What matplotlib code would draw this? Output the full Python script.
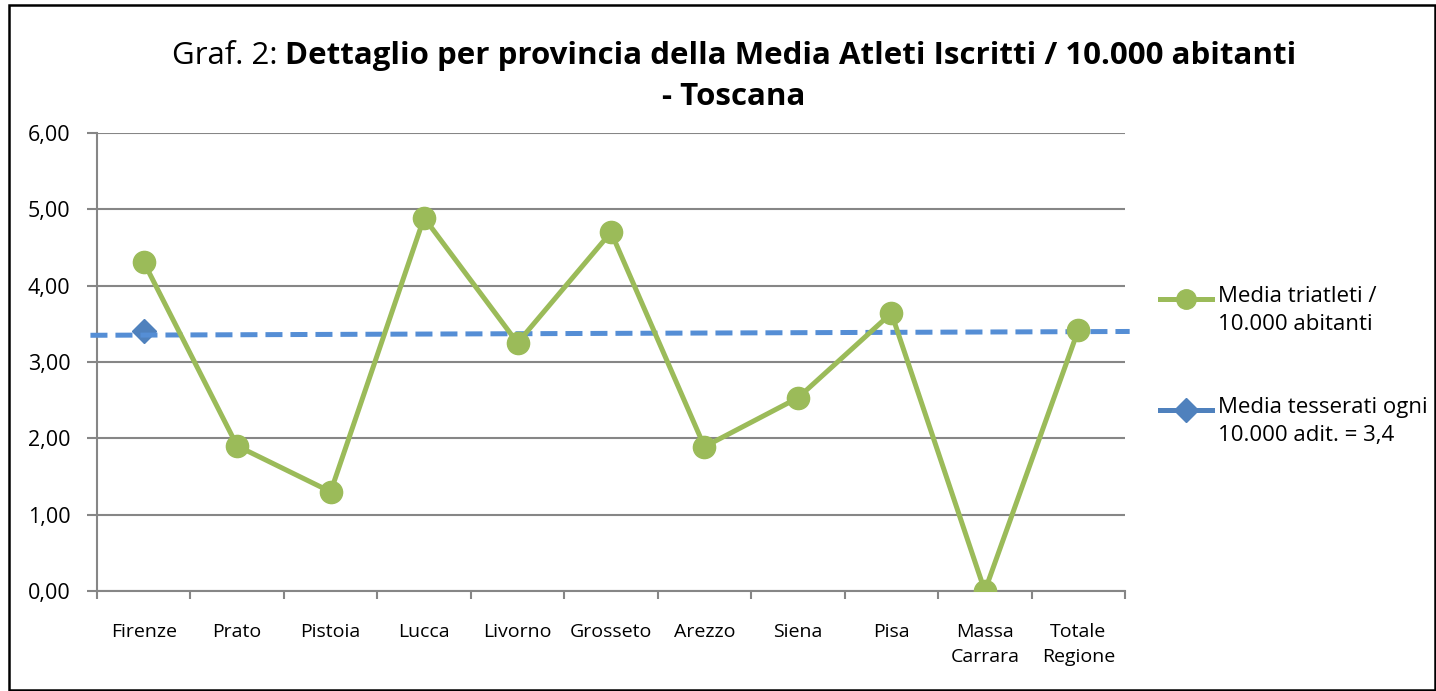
import matplotlib
matplotlib.use("Agg")
import matplotlib.pyplot as plt
from matplotlib.lines import Line2D
import numpy as np

plt.rcParams['font.family'] = ['Open Sans', 'DejaVu Sans']

categories = ["Firenze", "Prato", "Pistoia", "Lucca", "Livorno", "Grosseto",
              "Arezzo", "Siena", "Pisa", "Massa\nCarrara", "Totale\nRegione"]
triatleti = [4.31, 1.90, 1.30, 4.89, 3.25, 4.70, 1.89, 2.53, 3.64, 0.00, 3.42]
tesserati = [3.40]  # only the Firenze point is shown
trend_x = [-0.57, 10.55]
trend_y = [3.35, 3.40]
yticks = [0, 1, 2, 3, 4, 5, 6]
ytick_labels = ["0,00", "1,00", "2,00", "3,00", "4,00", "5,00", "6,00"]
legend_labels = ["Media triatleti /\n10.000 abitanti", "Media tesserati ogni\n10.000 adit. = 3,4"]

title_normal = "Graf. 2: "
title_bold1 = "Dettaglio per provincia della Media Atleti Iscritti / 10.000 abitanti"
title_bold2 = "- Toscana"

GREEN = "#9BBB59"
BLUE = "#4F81BD"
TREND = "#558ED5"
GRID = "#868686"

W, H = 1436, 691
fig = plt.figure(figsize=(W / 100, H / 100), dpi=100)
ax = fig.add_axes([97 / W, 1 - 591 / H, (1125 - 97) / W, (591 - 133) / H])

x = np.arange(len(categories))
ax.plot(x, triatleti, color=GREEN, lw=3.6, marker="o", ms=16, zorder=4)
ax.plot(x[:len(tesserati)], tesserati, color=BLUE, lw=3.6, marker="D", ms=12.5,
        linestyle="none", zorder=3)
ax.plot(trend_x, trend_y, color=TREND, lw=3.6, dashes=(3.4, 1.6), zorder=3,
        clip_on=False)

ax.set_xlim(-0.5, len(categories) - 0.5)
ax.set_ylim(0, 6)
ax.set_yticks(yticks)
ax.set_yticklabels(ytick_labels, fontsize=15.5)
ax.set_xticks(x)
ax.set_xticklabels(categories, fontsize=14, linespacing=1.5)
ax.set_xticks(np.arange(-0.5, len(categories)), minor=True)
ax.tick_params(axis="x", which="major", length=0, pad=23)
ax.tick_params(axis="x", which="minor", length=6, width=1.5, color=GRID, direction="out")
ax.tick_params(axis="y", length=7, width=1.5, color=GRID, pad=12)
ax.grid(axis="y", color=GRID, lw=1.5)
ax.set_axisbelow(True)
for s in ["top", "right"]:
    ax.spines[s].set_visible(False)
for s in ["left", "bottom"]:
    ax.spines[s].set_color(GRID)
    ax.spines[s].set_linewidth(1.5)

# Title (mixed weight)
fig.canvas.draw()
r = fig.canvas.get_renderer()
ty1 = 1 - 56 / H
t1 = fig.text(0, ty1, title_normal, fontsize=22.5, va="center", ha="left")
t2 = fig.text(0, ty1, title_bold1, fontsize=22.5, fontweight="bold", va="center", ha="left")
w1 = t1.get_window_extent(r).width
w2 = t2.get_window_extent(r).width
cx = 734
start = cx - (w1 + w2) / 2
t1.set_x(start / W)
t2.set_x((start + w1) / W)
fig.text(cx / W, 1 - 97 / H, title_bold2, fontsize=22.5, fontweight="bold", va="center", ha="center")

# Legend (drawn manually so the handle aligns with the first text line)
leg_specs = [(GREEN, "o", 14, 299), (BLUE, "D", 12.5, 410)]
for (col, mk, ms, yy), lab in zip(leg_specs, legend_labels):
    fig.add_artist(Line2D([1160 / W, 1212 / W], [1 - yy / H, 1 - yy / H], color=col, lw=3.6,
                          transform=fig.transFigure))
    fig.add_artist(Line2D([1186 / W], [1 - yy / H], color=col, marker=mk, ms=ms,
                          transform=fig.transFigure))
    fig.text(1218 / W, 1 - (yy - 13) / H, lab, fontsize=16, va="top", ha="left", linespacing=1.45)

# Outer border
fig.add_artist(plt.Rectangle((9 / W, 1 / H), (W - 10) / W, (H - 6) / H, transform=fig.transFigure,
                             fill=False, edgecolor="black", lw=1.8))

fig.savefig("out.png", dpi=100)
